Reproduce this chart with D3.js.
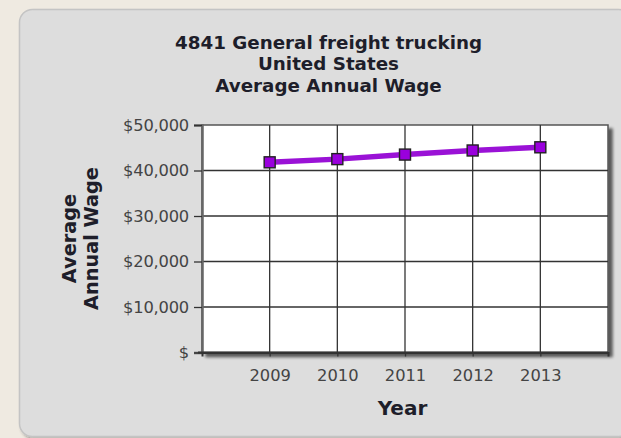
<!DOCTYPE html>
<html><head><meta charset="utf-8">
<script src="https://cdn.jsdelivr.net/npm/d3@7"></script>
<style>html,body{margin:0;padding:0;background:#efeae1;}svg{display:block}</style>
</head><body>
<script>
const years = [2009, 2010, 2011, 2012, 2013];
const wages = [41800, 42500, 43500, 44400, 45100];
const yTicks = [0, 10000, 20000, 30000, 40000, 50000];
const titleLines = ["4841 General freight trucking", "United States", "Average Annual Wage"];
const yTitleLines = ["Average", "Annual Wage"];
const xTitle = "Year";

const W = 621, H = 438;
const svg = d3.select("body").append("svg").attr("width", W).attr("height", H);
const defs = svg.append("defs");
const f = defs.append("filter").attr("id","sh").attr("x","-10%").attr("y","-10%").attr("width","130%").attr("height","130%");
f.append("feGaussianBlur").attr("in","SourceAlpha").attr("stdDeviation",1.5).attr("result","b");
f.append("feOffset").attr("in","b").attr("dx",2).attr("dy",2).attr("result","o");
f.append("feComponentTransfer").attr("in","o").attr("result","o2").append("feFuncA").attr("type","linear").attr("slope",0.35);
const m = f.append("feMerge"); m.append("feMergeNode").attr("in","o2"); m.append("feMergeNode").attr("in","SourceGraphic");

const f2 = defs.append("filter").attr("id","sh2").attr("x","-5%").attr("y","-5%").attr("width","115%").attr("height","115%");
f2.append("feGaussianBlur").attr("in","SourceAlpha").attr("stdDeviation",1.5).attr("result","b");
f2.append("feOffset").attr("in","b").attr("dx",4).attr("dy",4).attr("result","o");
f2.append("feComponentTransfer").attr("in","o").attr("result","o2").append("feFuncA").attr("type","linear").attr("slope",0.6);
const m2 = f2.append("feMerge"); m2.append("feMergeNode").attr("in","o2"); m2.append("feMergeNode").attr("in","SourceGraphic");

// card
svg.append("rect").attr("x",19.5).attr("y",9.5).attr("width",612).attr("height",427).attr("rx",13)
  .attr("fill","#dddddd").attr("stroke","#c4c4c4").attr("stroke-width",1.5).attr("filter","url(#sh)");

const L = 202, R = 608, T = 125, B = 352.5;
const x = d3.scaleLinear().domain([2008, 2014]).range([L, R]);
const y = d3.scaleLinear().domain([0, 50000]).range([B, T]);

// plot background with shadow
svg.append("rect").attr("x",L).attr("y",T).attr("width",R-L).attr("height",B-T)
  .attr("fill","#fff").attr("stroke","#555").attr("stroke-width",1.5).attr("filter","url(#sh2)");

// grid
const g = svg.append("g");
g.selectAll(".hg").data(yTicks.slice(1,-1)).join("line")
  .attr("x1",L).attr("x2",R).attr("y1",d=>y(d)).attr("y2",d=>y(d)).attr("stroke","#333").attr("stroke-width",1.3);
g.selectAll(".vg").data(years).join("line")
  .attr("x1",d=>x(d)).attr("x2",d=>x(d)).attr("y1",T).attr("y2",B).attr("stroke","#333").attr("stroke-width",1.3);

const tickFont = "DejaVu Sans, Verdana, sans-serif";
// axes
const yAxis = d3.axisLeft(y).tickValues(yTicks).tickSize(8).tickPadding(5)
  .tickFormat(d => d === 0 ? "$" : "$" + d3.format(",")(d));
const ya = svg.append("g").attr("transform",`translate(${L},0)`).call(yAxis);
ya.select(".domain").attr("stroke","#666").attr("stroke-width",2.5);
ya.selectAll(".tick line").attr("stroke","#333").attr("stroke-width",1.3);
ya.selectAll("text").attr("font-family",tickFont).attr("font-size",16.3).attr("fill","#444").attr("letter-spacing","-0.2");

const xAxis = d3.axisBottom(x).tickValues(years).tickSize(4).tickPadding(13).tickFormat(d3.format("d"));
const xa = svg.append("g").attr("transform",`translate(0,${B})`).call(xAxis);
xa.select(".domain").attr("stroke","#333").attr("stroke-width",2);
xa.selectAll(".tick line").attr("stroke","#333").attr("stroke-width",1.3);
xa.selectAll("text").attr("font-family",tickFont).attr("font-size",16.3).attr("fill","#444");

// bottom axis line redraw
svg.append("line").attr("x1",L-4).attr("x2",R).attr("y1",B).attr("y2",B).attr("stroke","#333").attr("stroke-width",2);

// line
const line = d3.line().x((d,i)=>x(years[i])).y(d=>y(d));
svg.append("path").datum(wages).attr("d",line).attr("fill","none").attr("stroke","#9a12d6").attr("stroke-width",5.5);
svg.selectAll(".mk").data(wages).join("rect")
  .attr("x",(d,i)=>x(years[i])-5.5).attr("y",d=>y(d)-5.5).attr("width",11).attr("height",11)
  .attr("fill","#9a00dd").attr("stroke","#222").attr("stroke-width",1.4);

const boldFont = "DejaVu Sans, Verdana, sans-serif";
// titles
svg.append("g").selectAll("text").data(titleLines).join("text")
  .attr("x",328.5).attr("y",(d,i)=>48.5+i*21.6).attr("text-anchor","middle")
  .attr("font-family",boldFont).attr("font-weight","bold").attr("font-size",18.3)
  .attr("fill","#1e1e2a").text(d=>d);

svg.append("g").attr("transform","translate(0,238.5) rotate(-90)")
  .selectAll("text").data(yTitleLines).join("text")
  .attr("x",0).attr("y",(d,i)=>76+i*21.5).attr("text-anchor","middle")
  .attr("font-family",boldFont).attr("font-weight","bold").attr("font-size",19.3)
  .attr("fill","#1e1e2a").text(d=>d);

svg.append("text").attr("x",402.5).attr("y",414.5).attr("text-anchor","middle")
  .attr("font-family",boldFont).attr("font-weight","bold").attr("font-size",20)
  .attr("fill","#1e1e2a").text(xTitle);
</script>
</body></html>
